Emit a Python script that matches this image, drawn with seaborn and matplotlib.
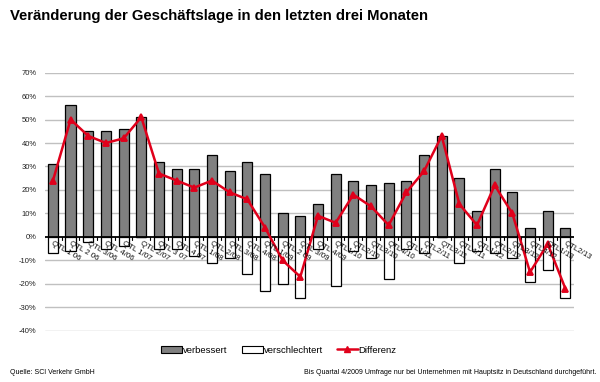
import matplotlib
matplotlib.use("Agg")
import matplotlib.pyplot as plt
import seaborn as sns
import pandas as pd
from matplotlib.patches import Patch
from matplotlib.lines import Line2D

# data
quartale = ["QTL 1 06", "QTL 2 06", "QTL 3/06", "QTL 4/06", "QTL 1/07", "QTL 2/07",
            "QTL 3 07", "QTL 4 07", "QTL 1/08", "QTL 2/08", "QTL 3/08", "QTL 4/08",
            "QTL 1/09", "QTL 2 09", "QTL 3/09", "QTL 4/09", "QTL1/10", "QTL2/10",
            "QTL3/10", "QTL4/10", "QTL1/11", "QTL2/11", "QTL3/11", "QTL4/11",
            "QTL1/12", "QTL2/12", "QTL3/12", "QTL4/12", "QTL1/13", "QTL2/13"]
verbessert = [31, 56, 45, 45, 46, 51, 32, 29, 29, 35, 28, 32, 27, 10, 9,
              14, 27, 24, 22, 23, 24, 35, 43, 25, 11, 29, 19, 4, 11, 4]
verschlechtert = [-7, -6, -2, -5, -4, 0, -5, -5, -8, -11, -9, -16, -23, -20, -26,
                  -5, -21, -6, -9, -18, -5, -7, 0, -11, -6, -7, -9, -19, -14, -26]
differenz = [24, 50, 43, 40, 42, 51, 27, 24, 21, 24, 19, 16, 4, -10, -17,
             9, 6, 18, 13, 5, 19, 28, 43, 14, 5, 22, 10, -15, -3, -22]
y_ticks = list(range(-40, 71, 10))

df = pd.DataFrame({"quartal": quartale, "verbessert": verbessert,
                   "verschlechtert": verschlechtert, "differenz": differenz})

sns.set_style("white")
plt.rcParams["font.family"] = ["Liberation Sans", "DejaVu Sans"]
plt.rcParams["text.color"] = "black"

fig = plt.figure(figsize=(6, 3.82), dpi=100)
ax = fig.add_axes([0.075, 0.134, 0.882, 0.676])

ax.set_axisbelow(True)
for t in y_ticks:
    if t != 0:
        ax.axhline(t, color="#c0c0c0", lw=1, zorder=0)

sns.barplot(data=df, x="quartal", y="verbessert", order=quartale, color="#808080",
            edgecolor="black", linewidth=0.9, width=0.58, saturation=1, ax=ax, zorder=2)
sns.barplot(data=df, x="quartal", y="verschlechtert", order=quartale, color="white",
            edgecolor="black", linewidth=0.9, width=0.58, saturation=1, ax=ax, zorder=2)
sns.pointplot(data=df, x="quartal", y="differenz", order=quartale, color="#e0001b",
              markers="^", markersize=5, linewidth=1.8, ax=ax, zorder=4)

ax.axhline(0, color="black", lw=1.3, zorder=3)
ax.set_ylim(-40, 70)
ax.set_xlim(-0.45, 29.5)
ax.set_yticks(y_ticks)
ax.set_yticklabels([f"{t}%" for t in y_ticks], fontsize=5.5, color="#222222")
ax.tick_params(axis="y", length=0, pad=6)
ax.set_xlabel("")
ax.set_ylabel("")
ax.set_xticks([])
for i, q in enumerate(quartale):
    ax.text(i + 0.05, -1.2, q, fontsize=5.7, rotation=-30, ha="left", va="top",
            rotation_mode="anchor", zorder=5, color="#111111")
for i in range(len(quartale) + 1):
    ax.plot([i - 0.5, i - 0.5], [0, -1.2], color="black", lw=0.8, zorder=3)
for s in ax.spines.values():
    s.set_visible(False)

fig.text(0.017, 0.958, "Veränderung der Geschäftslage in den letzten drei Monaten",
         fontsize=10.7, fontweight="bold", ha="left", va="center", color="black")

handles = [Patch(facecolor="#808080", edgecolor="black", lw=0.8),
           Patch(facecolor="white", edgecolor="black", lw=0.8),
           Line2D([0], [0], color="#e0001b", lw=1.8, marker="^", markersize=5)]
fig.legend(handles, ["verbessert", "verschlechtert", "Differenz"], loc="center",
           bbox_to_anchor=(0.465, 0.083), ncol=3, frameon=False, fontsize=6.8,
           handlelength=2.2, handleheight=0.7, handletextpad=0.1, columnspacing=1.5)

fig.text(0.017, 0.026, "Quelle: SCI Verkehr GmbH", fontsize=5, ha="left", va="center")
fig.text(0.995, 0.026, "Bis Quartal 4/2009 Umfrage nur bei Unternehmen mit Hauptsitz in Deutschland durchgeführt.",
         fontsize=5, ha="right", va="center")

fig.savefig("out.png", dpi=100, facecolor="white")
